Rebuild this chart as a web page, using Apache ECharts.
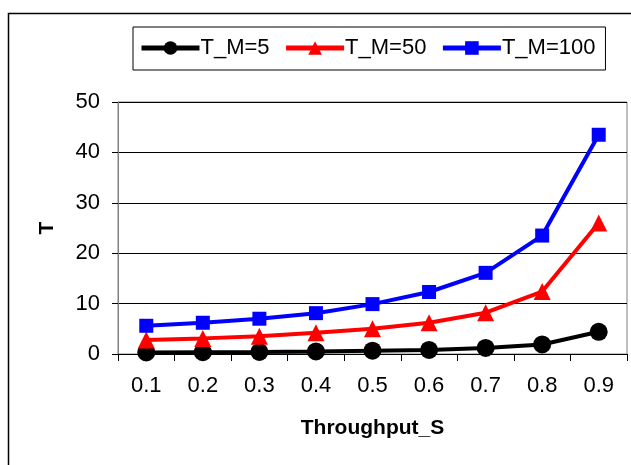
<!DOCTYPE html>
<html>
<head>
<meta charset="utf-8">
<script src="https://cdn.jsdelivr.net/npm/echarts@6/dist/echarts.min.js"></script>
<style>
html,body{margin:0;padding:0;background:#fff;}
#main{width:631px;height:465px;}
</style>
</head>
<body>
<div id="main"></div>
<script>
var categories = ['0.1', '0.2', '0.3', '0.4', '0.5', '0.6', '0.7', '0.8', '0.9'];
var tm5 = [0.3, 0.35, 0.4, 0.5, 0.65, 0.8, 1.2, 1.9, 4.4];
var tm50 = [2.8, 3.1, 3.5, 4.2, 5.0, 6.2, 8.2, 12.4, 26.0];
var tm100 = [5.6, 6.2, 7.0, 8.1, 9.9, 12.3, 16.1, 23.5, 43.5];

var myChart = echarts.init(document.getElementById('main'));
var font = 'Liberation Sans, Arial, sans-serif';
var option = {
    animation: false,
    textStyle: { fontFamily: font },
    graphic: [{
        type: 'rect',
        shape: { x: 8.5, y: 13.5, width: 700, height: 500 },
        style: { fill: 'none', stroke: '#000', lineWidth: 1.5 },
        z: -1
    }],
    legend: {
        left: 133,
        top: 27,
        padding: [10, 10, 11, 6],
        itemGap: 14,
        itemWidth: 58,
        itemHeight: 17,
        borderColor: '#000',
        borderWidth: 1,
        lineStyle: { width: 5 },
        textStyle: { fontSize: 22, color: '#000', fontFamily: font, padding: [0, 0, 0, -4] },
        data: ['T_M=5', 'T_M=50', 'T_M=100']
    },
    grid: {
        left: 118,
        right: 4,
        top: 102,
        bottom: 111,
        show: true,
        borderColor: '#808080',
        borderWidth: 1
    },
    xAxis: {
        type: 'category',
        data: categories,
        boundaryGap: true,
        name: 'Throughput_S',
        nameLocation: 'middle',
        nameGap: 64,
        nameTextStyle: { fontSize: 21, fontWeight: 'bold', color: '#000', fontFamily: font },
        axisLine: { lineStyle: { color: '#000', width: 1 } },
        axisTick: { show: true, alignWithLabel: false, length: 7, lineStyle: { color: '#000' } },
        axisLabel: { fontSize: 22, color: '#000', margin: 21, fontFamily: font }
    },
    yAxis: {
        type: 'value',
        min: 0,
        max: 50,
        interval: 10,
        name: 'T',
        nameLocation: 'middle',
        nameGap: 60,
        nameRotate: 90,
        nameTextStyle: { fontSize: 21, fontWeight: 'bold', color: '#000', fontFamily: font },
        axisLine: { show: true, lineStyle: { color: '#808080', width: 1 } },
        axisTick: { show: true, length: 6, lineStyle: { color: '#000' } },
        axisLabel: { fontSize: 22, color: '#000', margin: 18, fontFamily: font },
        splitLine: { lineStyle: { color: '#000', width: 1 } }
    },
    series: [
        {
            name: 'T_M=5',
            type: 'line',
            data: tm5,
            color: '#000',
            symbol: 'circle',
            symbolSize: 18,
            lineStyle: { width: 4 }
        },
        {
            name: 'T_M=50',
            type: 'line',
            data: tm50,
            color: '#ff0000',
            symbol: 'triangle',
            symbolSize: 17,
            lineStyle: { width: 4 }
        },
        {
            name: 'T_M=100',
            type: 'line',
            data: tm100,
            color: '#0000ff',
            symbol: 'rect',
            symbolSize: 14,
            lineStyle: { width: 4 }
        }
    ]
};
myChart.setOption(option);
</script>
</body>
</html>
